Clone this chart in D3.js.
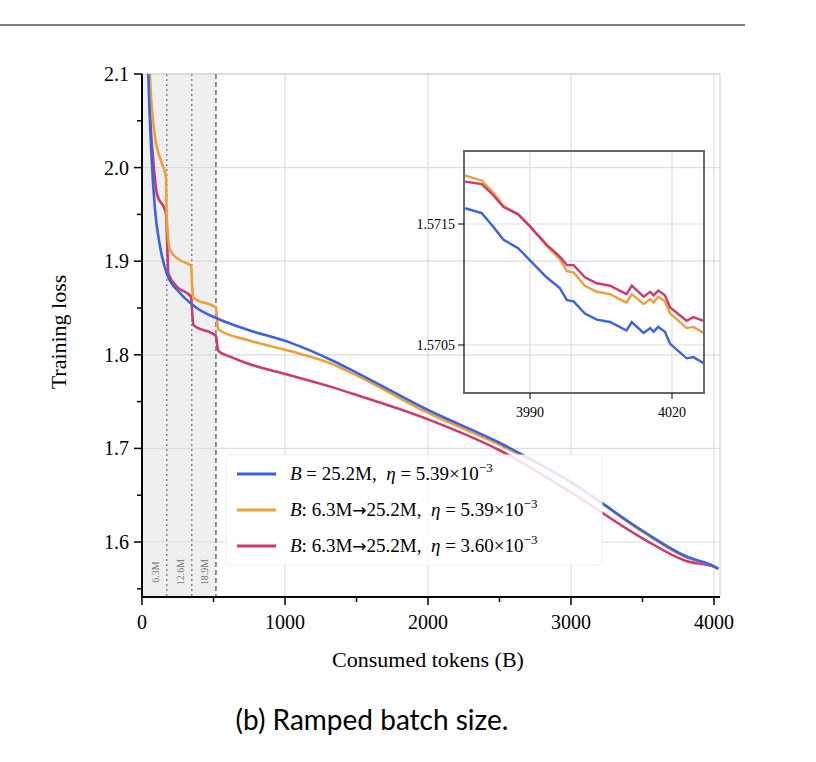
<!DOCTYPE html><html><head><meta charset="utf-8">
<script src="https://cdn.jsdelivr.net/npm/d3@7"></script>
<style>body{margin:0;background:#fff}svg{font-family:"Liberation Serif","DejaVu Serif",serif}</style></head><body>
<svg id="c" width="816" height="762"></svg>
<script>
const xTicks=[0,1000,2000,3000,4000];
const yTicks=[1.6,1.7,1.8,1.9,2.0,2.1];
const rampMarks=[173,348,517];
const rampLabels=["6.3M","12.6M","18.9M"];
const colors=["#3b63e0","#eba03a","#cc3a6e"];
const blueX=[30,44,68,91,126,173,266,383,522,733,1036,1316,1500,2000,2500,3000,3500,3800,4000,4030];
const blueY=[2.2,2.1,2.008,1.955,1.916,1.887,1.866,1.85,1.839,1.827,1.813,1.795,1.781,1.741,1.706,1.664,1.612,1.585,1.574,1.5714];
const orangeX=[40,55,91,138,168,172,196,266,343,350,359,518,526,534,733,1036,1316,1500,2000,2500,3000,3500,3800,4000,4030];
const orangeY=[2.2,2.1,2.033,2.005,1.989,1.95,1.912,1.901,1.895,1.875,1.861,1.85,1.835,1.827,1.816,1.804,1.791,1.778,1.738,1.704,1.664,1.611,1.584,1.574,1.5716];
const pinkX=[40,56,79,103,168,176,184,243,343,351,359,518,526,534,616,733,966,1316,1500,2000,2500,3000,3500,3800,4000,4030];
const pinkY=[2.25,2.062,2.008,1.973,1.951,1.92,1.887,1.873,1.862,1.845,1.832,1.82,1.81,1.804,1.798,1.791,1.781,1.766,1.757,1.731,1.698,1.653,1.604,1.58,1.5735,1.5716];
const inX=[3976.3,3979.8,3982.2,3984.4,3987.5,3990,3993.5,3996.3,3997.8,3999.2,4001.6,4004.1,4006.9,4010.4,4011.5,4014,4015.4,4016.1,4017.1,4018.5,4019.6,4023.1,4024.5,4026.7];
const inBlue=[1.57163,1.57159,1.57148,1.57137,1.5713,1.5712,1.57106,1.57097,1.57087,1.57086,1.57076,1.57071,1.57069,1.57062,1.57069,1.5706,1.57064,1.57061,1.57065,1.57061,1.57051,1.57039,1.5704,1.57035];
const inOrange=[1.5719,1.57186,1.57176,1.57165,1.57158,1.57148,1.57132,1.57121,1.57111,1.5711,1.57099,1.57094,1.57092,1.57085,1.57092,1.57084,1.57088,1.57085,1.5709,1.57086,1.57076,1.57064,1.57065,1.5706];
const inPink=[1.57185,1.57183,1.57174,1.57164,1.57158,1.57148,1.57133,1.57123,1.57116,1.57116,1.57106,1.57101,1.57099,1.57092,1.57099,1.5709,1.57094,1.57091,1.57095,1.57091,1.57081,1.5707,1.57073,1.5707];
const inXTicks=[3990,4020], inYTicks=[1.5705,1.5715];

const svg=d3.select("#c");
svg.append("line").attr("x1",0).attr("x2",745).attr("y1",25).attr("y2",25).attr("stroke","#555").attr("stroke-width",1.5);
const L=142,R=720,T=74,B=597;
const x=d3.scaleLinear().domain([0,4000]).range([L,714]);
const y=d3.scaleLinear().domain([1.6,2.1]).range([542,T]);
svg.append("defs").append("clipPath").attr("id","cp").append("rect").attr("x",L).attr("y",T).attr("width",R-L).attr("height",B-T);
svg.append("rect").attr("x",L).attr("y",T).attr("width",x(rampMarks[2])-L).attr("height",B-T).attr("fill","#efefef");
const g=svg.append("g");
xTicks.forEach(t=>g.append("line").attr("x1",x(t)).attr("x2",x(t)).attr("y1",T).attr("y2",B).attr("stroke","#ddd").attr("stroke-width",1.2));
yTicks.forEach(t=>g.append("line").attr("x1",L).attr("x2",R).attr("y1",y(t)).attr("y2",y(t)).attr("stroke","#ddd").attr("stroke-width",1.2));
svg.append("line").attr("x1",L).attr("x2",R).attr("y1",T).attr("y2",T).attr("stroke","#ccc");
svg.append("line").attr("x1",R).attr("x2",R).attr("y1",T).attr("y2",B).attr("stroke","#ccc");
rampMarks.forEach((m,i)=>{
 svg.append("line").attr("x1",x(m)).attr("x2",x(m)).attr("y1",T).attr("y2",B).attr("stroke","#888").attr("stroke-width",i==2?1.8:1.5).attr("stroke-dasharray",i==2?"5,3":"2,3");
 svg.append("text").attr("transform",`translate(${x(m)-8},${572}) rotate(-90)`).attr("font-size",10).attr("fill","#777").attr("text-anchor","middle").text(rampLabels[i]);
});
const line=d3.line().x(d=>x(d[0])).y(d=>y(d[1])).curve(d3.curveMonotoneX);
const data=[[blueX,blueY],[orangeX,orangeY],[pinkX,pinkY]];
const cg=svg.append("g").attr("clip-path","url(#cp)");
[2,1,0].forEach(i=>cg.append("path").attr("d",line(data[i][0].map((v,j)=>[v,data[i][1][j]]))).attr("fill","none").attr("stroke",colors[i]).attr("stroke-width",2.6));
svg.append("line").attr("x1",L).attr("x2",L).attr("y1",T).attr("y2",B).attr("stroke","#000").attr("stroke-width",2);
svg.append("line").attr("x1",L-1).attr("x2",R).attr("y1",B).attr("y2",B).attr("stroke","#000").attr("stroke-width",2);
d3.range(0,4001,500).forEach(t=>{const maj=t%1000==0;svg.append("line").attr("x1",x(t)).attr("x2",x(t)).attr("y1",B).attr("y2",B+(maj?8:5)).attr("stroke","#000").attr("stroke-width",1.5);});
xTicks.forEach(t=>svg.append("text").attr("x",x(t)).attr("y",629).attr("text-anchor","middle").attr("font-size",20).text(t));
d3.range(1.55,2.101,0.05).forEach(t=>{const maj=Math.abs(Math.round(t*10)-t*10)<1e-6;svg.append("line").attr("x1",L).attr("x2",L-(maj?8:5)).attr("y1",y(t)).attr("y2",y(t)).attr("stroke","#000").attr("stroke-width",1.5);});
yTicks.forEach(t=>svg.append("text").attr("x",129).attr("y",y(t)+7).attr("text-anchor","end").attr("font-size",20).text(t.toFixed(1)));
svg.append("text").attr("transform","translate(66,332) rotate(-90)").attr("text-anchor","middle").attr("font-size",22).text("Training loss");
svg.append("text").attr("x",428).attr("y",667).attr("text-anchor","middle").attr("font-size",22).text("Consumed tokens (B)");
svg.append("text").attr("x",372).attr("y",730).attr("text-anchor","middle").attr("font-size",28).attr("font-family","Lato, 'Open Sans', sans-serif").text("(b) Ramped batch size.");
const lg=svg.append("g");
lg.append("rect").attr("x",226).attr("y",455).attr("width",376).attr("height",110).attr("rx",3).attr("fill","#fff").attr("fill-opacity",0.85).attr("stroke","#eee");
const labs=[["B"," = 25.2M,  ","η"," = 5.39×10","−3"],["B",": 6.3M","→","25.2M,  ","η"," = 5.39×10","−3"],["B",": 6.3M","→","25.2M,  ","η"," = 3.60×10","−3"]];
labs.forEach((p,i)=>{const yy=474+i*36;
 lg.append("line").attr("x1",237).attr("x2",276).attr("y1",yy).attr("y2",yy).attr("stroke",colors[i]).attr("stroke-width",3);
 const t=lg.append("text").attr("x",290).attr("y",yy+6).attr("font-size",19).attr("xml:space","preserve");
 if(p.length==5){
  t.append("tspan").attr("font-style","italic").text(p[0]);t.append("tspan").text(p[1]);
  t.append("tspan").attr("font-style","italic").text(p[2]);t.append("tspan").text(p[3]);
  t.append("tspan").attr("dy",-8).attr("font-size",13).text(p[4]);
 } else {
  t.append("tspan").attr("font-style","italic").text(p[0]);t.append("tspan").text(p[1]);
  t.append("tspan").attr("font-family","DejaVu Sans").attr("font-size",17).text(p[2]);t.append("tspan").text(p[3]);
  t.append("tspan").attr("font-style","italic").text(p[4]);t.append("tspan").text(p[5]);
  t.append("tspan").attr("dy",-8).attr("font-size",13).text(p[6]);
 }});
const iL=464,iR=704,iT=151,iB=393;
const ix=d3.scaleLinear().domain([3990,4020]).range([530,672]);
const iy=d3.scaleLinear().domain([1.5705,1.5715]).range([345,224]);
svg.append("defs").append("clipPath").attr("id","ip").append("rect").attr("x",iL).attr("y",iT).attr("width",iR-iL).attr("height",iB-iT);
inXTicks.forEach(t=>svg.append("line").attr("x1",ix(t)).attr("x2",ix(t)).attr("y1",iT).attr("y2",iB).attr("stroke","#ddd").attr("stroke-width",1.2));
inYTicks.forEach(t=>svg.append("line").attr("x1",iL).attr("x2",iR).attr("y1",iy(t)).attr("y2",iy(t)).attr("stroke","#ddd").attr("stroke-width",1.2));
const il=d3.line().x(d=>ix(d[0])).y(d=>iy(d[1]));
const ig=svg.append("g").attr("clip-path","url(#ip)");
[inBlue,inOrange,inPink].forEach((s,i)=>ig.append("path").attr("d",il(inX.map((v,j)=>[v,s[j]]))).attr("fill","none").attr("stroke",colors[i]).attr("stroke-width",2.4));
svg.append("rect").attr("x",iL).attr("y",iT).attr("width",iR-iL).attr("height",iB-iT).attr("fill","none").attr("stroke","#666").attr("stroke-width",2);
inXTicks.forEach(t=>{svg.append("line").attr("x1",ix(t)).attr("x2",ix(t)).attr("y1",iB).attr("y2",iB+6).attr("stroke","#000");
 svg.append("text").attr("x",ix(t)).attr("y",iB+24).attr("text-anchor","middle").attr("font-size",14).text(t);});
inYTicks.forEach(t=>{svg.append("line").attr("x1",iL).attr("x2",iL-6).attr("y1",iy(t)).attr("y2",iy(t)).attr("stroke","#000");
 svg.append("text").attr("x",iL-9).attr("y",iy(t)+5).attr("text-anchor","end").attr("font-size",14).text(t.toFixed(4));});
</script></body></html>
